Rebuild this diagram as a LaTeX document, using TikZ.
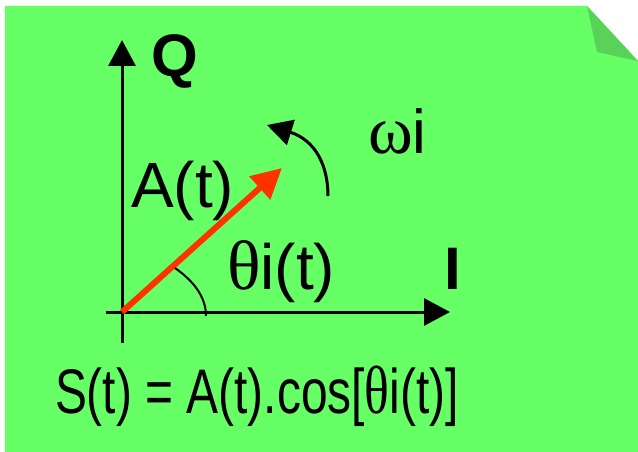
\documentclass[tikz,border=0pt]{standalone}
\usepackage{fontspec}
\usepackage{graphicx}
\setmainfont{Liberation Sans}
\newfontfamily\serifgr{Liberation Serif}
\usetikzlibrary{arrows.meta}
\definecolor{notegreen}{RGB}{102,255,102}
\definecolor{folddark}{RGB}{88,210,88}
\definecolor{vecred}{RGB}{255,51,0}
\tikzset{
  lbl/.style={inner sep=0pt, outer sep=0pt, anchor=base west},
  axis/.style={line width=3bp, -{Triangle[length=26bp,width=27bp]}},
}
\begin{document}
\begin{tikzpicture}[x=1bp,y=-1bp]
\useasboundingbox (0,0) rectangle (638,452);
% note background
\fill[notegreen] (5,6) -- (587,6) -- (638,61) -- (638,452) -- (5,452) -- cycle;
\fill[folddark] (587,6) -- (597,52) -- (638,61) -- cycle;
% axes
\coordinate (o) at (122,312);
\coordinate (vb) at (122,343);
\coordinate (vt) at (122,40);
\coordinate (hl) at (106,312);
\coordinate (hr) at (450,312);
\draw[axis] (vb) -- (vt);
\draw[axis] (hl) -- (hr);
% vector
\coordinate (vtip) at (282,168);
\draw[vecred, line width=6bp, -{Triangle[length=30bp,width=30bp]}] (o) -- (vtip);
% angle arc
\coordinate (a1) at (175,268);
\coordinate (a2) at (206,316);
\draw[line width=2bp] (a1) .. controls (195,282) and (206,298) .. (a2);
% rotation arrow
\coordinate (r1) at (328,196);
\coordinate (r2) at (267,125);
\draw[line width=3bp, -{Triangle[length=25bp,width=26bp]}] (r1) .. controls (328,165) and (315,140) .. (r2);
% labels
\node[lbl] (Q) at (151,77) {\fontsize{60bp}{66bp}\selectfont\bfseries Q};
\node[lbl] (I) at (444,290) {\fontsize{60bp}{66bp}\selectfont\bfseries I};
\node[lbl] (A) at (131,208) {\fontsize{64bp}{70bp}\selectfont A(t)};
\node[lbl] (th) at (227,290) {\fontsize{64bp}{70bp}\selectfont{\serifgr\fontsize{70bp}{76bp}\selectfont θ}i(t)};
\node[lbl] (w) at (368,154) {\fontsize{62bp}{68bp}\selectfont{\serifgr\fontsize{68bp}{74bp}\selectfont ω}i};
\node[lbl] (S) at (55,413) {\scalebox{0.76}[1]{\fontsize{63bp}{70bp}\selectfont S(t) = A(t).cos[{\serifgr\fontsize{68bp}{74bp}\selectfont θ}i(t)]}};
\end{tikzpicture}
\end{document}
